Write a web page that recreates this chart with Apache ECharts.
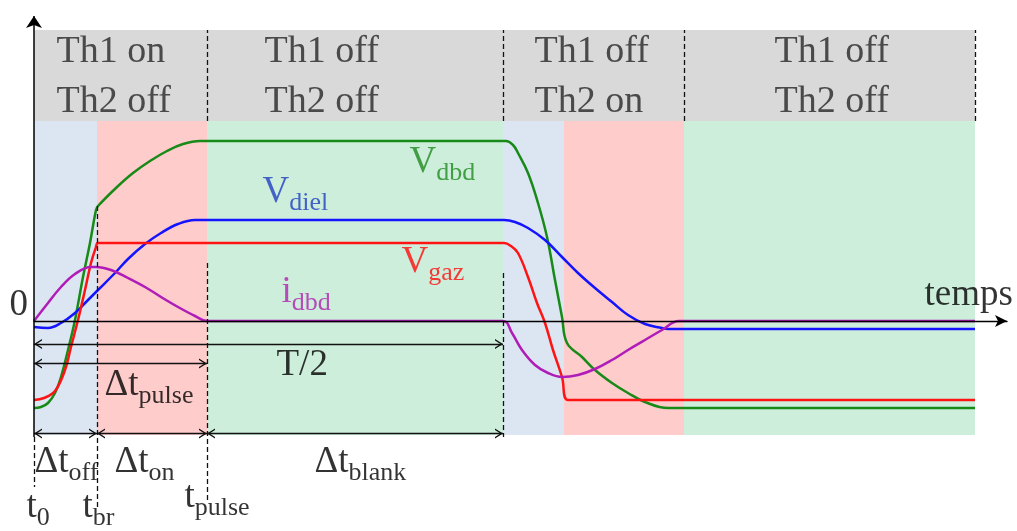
<!DOCTYPE html>
<html><head><meta charset="utf-8">
<script src="https://cdn.jsdelivr.net/npm/echarts@6/dist/echarts.min.js"></script>
<style>html,body{margin:0;padding:0;background:#fff}#c{width:1017px;height:531px}</style>
</head><body><div id="c"></div>
<script>
// ---- data (time in arbitrary units, voltages/current in arbitrary units) ----
const phaseBounds = [0, 6.3, 17.3, 46.9, 53.0, 65.0, 94.1];
const headerBounds = [0, 17.3, 46.9, 65.0, 94.1];
const headerStates = ['Th1 on\nTh2 off', 'Th1 off\nTh2 off', 'Th1 off\nTh2 on', 'Th1 off\nTh2 off'];
const tBr = 6.3, tPulse = 17.3, tHalf = 46.9;

const vDbd = [[0,-8.7],[0.7,-8.6],[1.4,-8.2],[2.1,-7.2],[2.7,-5.6],[3.4,-2.9],[4.1,0.1],[4.9,4.4],[5.6,7.8],[6.2,11.1],[6.4,11.5],
  [8.3,13.4],[9.9,14.8],[11.6,16.0],[13.3,17.0],[14.9,17.7],[16.6,18.0],[47.2,18.0],[47.9,17.6],[48.4,16.8],
  [49.4,14.8],[50.4,11.8],[51.3,8.4],[52.1,4.1],[52.8,0.4],[53.3,-2.2],[54.8,-3.6],[56.1,-4.9],[57.8,-6.2],
  [59.4,-7.2],[61.1,-8.1],[63.4,-8.7],[94.1,-8.7]];
const vGaz = [[0,-7.9],[1.0,-7.7],[2.1,-7.0],[3.1,-4.9],[3.7,-2.6],[4.4,0.1],[5.1,3.1],[5.7,5.8],[6.2,7.4],[6.4,7.8],
  [47.0,7.8],[47.7,7.5],[48.4,6.8],[49.4,4.4],[50.3,1.8],[51.1,-0.2],[51.9,-2.9],[52.8,-5.6],[53.4,-7.9],[94.1,-7.9]];
const vDiel = [[0,-0.6],[1.4,-0.7],[2.7,-0.2],[4.1,0.8],[5.4,2.1],[6.4,3.1],[8.1,4.8],[9.4,6.2],[11.1,7.7],[12.7,8.8],
  [14.4,9.7],[16.1,10.1],[47.0,10.1],[48.1,9.9],[49.4,9.3],[51.1,8.1],[52.8,6.4],[54.4,4.8],[56.1,3.3],[57.8,1.9],
  [59.4,0.6],[61.1,-0.3],[62.8,-0.7],[63.4,-0.8],[94.1,-0.8]];
const iDbd = [[0,0],[1.4,1.8],[2.7,3.4],[4.1,4.7],[5.7,5.4],[6.2,5.4],[7.7,5.1],[9.4,4.3],[11.1,3.4],[12.7,2.4],
  [14.4,1.4],[16.1,0.5],[17.3,0],[46.9,0],[47.8,-1.2],[48.8,-2.9],[50.1,-4.4],[51.4,-5.2],[52.8,-5.6],[54.4,-5.4],
  [56.1,-4.8],[57.8,-3.9],[59.4,-2.9],[61.1,-1.9],[62.8,-0.9],[64.5,0],[94.1,0]];

// ---- styles / layout ----
const SERIF = "'Liberation Serif','Times New Roman',serif";
const C_DBD = '#178a17', C_DIEL = '#1414ff', C_GAZ = '#ff1414', C_I = '#b01cb8';
const bandColors = ['#dce6f2','#ffcccc','#cdeedb','#dce6f2','#ffcccc','#cdeedb'];
const BAND_BOTTOM = -11.4, BAND_TOP = 20.0, HEAD_TOP = 29.1;

const areas = phaseBounds.slice(0, -1).map((s, i) => [
  {coord: [s, BAND_BOTTOM], itemStyle: {color: bandColors[i]}},
  {coord: [phaseBounds[i + 1], BAND_TOP]}]);
areas.push([{coord: [headerBounds[0], BAND_TOP], itemStyle: {color: '#d9d9d9'}},
            {coord: [headerBounds[headerBounds.length - 1], HEAD_TOP]}]);

const dashedSegs = [
  [0, -11.6, 0, -16.6],
  [tBr, 11.5, tBr, -18.9],
  [tPulse, 5.8, tPulse, -18.2],
  [tHalf, 4.8, tHalf, -11.6]];
headerBounds.slice(1).forEach(b => dashedSegs.push([b, BAND_TOP, b, HEAD_TOP]));

// open chevron pointing "up" (outward), tip at the symbol centre
const CHEVRON = 'path://M3,8 L8,0 L13,8 L11.4,8 L8,2.6 L4.6,8 Z M0,-8 L0.01,-8 Z M16,-8 L15.99,-8 Z';
const arrowSegs = [[0, tHalf, -2.3], [0, tPulse, -4.25], [0, tBr, -11.25], [tBr, tPulse, -11.25], [tPulse, tHalf, -11.25]];

const mlData = [];
dashedSegs.forEach(d => mlData.push([
  {coord: [d[0], d[1]], symbol: 'none', lineStyle: {type: [5, 3], width: 1.3, color: '#111'}},
  {coord: [d[2], d[3]], symbol: 'none'}]));
arrowSegs.forEach(a => mlData.push([
  {coord: [a[0], a[2]], symbol: CHEVRON, symbolSize: 16, lineStyle: {type: 'solid', width: 1.4, color: '#111'}},
  {coord: [a[1], a[2]], symbol: CHEVRON, symbolSize: 16}]));
mlData.push([
  {coord: [0, -11.6], symbol: 'none', lineStyle: {type: 'solid', width: 1.5, color: '#000'}},
  {coord: [0, 30.5], symbol: 'arrow', symbolSize: 12}]);

function ann(x, y, main, sub, color) {
  const txt = '{m|' + main + '}' + (sub ? '{s|' + sub + '}' : '');
  return {
    value: [x, y],
    label: {
      show: true, position: [0, 0], align: 'left', verticalAlign: 'middle', formatter: txt,
      rich: {
        m: {fontSize: 37, lineHeight: 49, fontFamily: SERIF, color: color},
        s: {fontSize: 26, lineHeight: 26, verticalAlign: 'bottom', fontFamily: SERIF, color: color}
      }
    }
  };
}
const annData = [
  ann(-2.4, 1.55, '0', '', '#000'),
  ann(89.1, 2.55, 'temps', '', '#000'),
  ann(37.6, 15.85, 'V', 'dbd', '#1f8a1f'),
  ann(22.9, 12.85, 'V', 'diel', '#1f3fc0'),
  ann(36.8, 5.85, 'V', 'gaz', '#ff0d0d'),
  ann(24.8, 2.85, 'i', 'dbd', '#b020b0'),
  ann(24.3, -4.45, 'T/2', '', '#000'),
  ann(7.1, -6.45, 'Δt', 'pulse', '#000'),
  ann(0.1, -14.15, 'Δt', 'off', '#000'),
  ann(8.1, -14.15, 'Δt', 'on', '#000'),
  ann(28.1, -14.15, 'Δt', 'blank', '#000'),
  ann(-0.7, -18.65, 't', '0', '#000'),
  ann(4.9, -18.65, 't', 'br', '#000'),
  ann(15.1, -17.65, 't', 'pulse', '#000')
];
const headerLeft = [2.3, 23.1, 50.1, 74.1];
const headData = headerStates.map((s, i) => ({
  value: [headerLeft[i], 24.38],
  label: {show: true, position: [0, 0], align: 'left', verticalAlign: 'middle', formatter: s,
          fontFamily: SERIF, fontSize: 38, lineHeight: 50, color: '#262626'}
}));

function curve(name, data, color) {
  return {name, type: 'line', data, showSymbol: false, symbol: 'none', smooth: 0.4, clip: false, z: 3,
          lineStyle: {color, width: 2.5}, itemStyle: {color}, silent: true};
}

const option = {
  animation: false,
  grid: {left: 34, right: 10, top: 10, bottom: 0},
  xAxis: {type: 'value', min: 0, max: 97.3, z: 5,
    axisLine: {show: true, onZero: true, symbol: ['none', 'arrow'], symbolSize: [9, 12], lineStyle: {color: '#000', width: 1.4}},
    axisTick: {show: false}, axisLabel: {show: false}, splitLine: {show: false}},
  yAxis: {type: 'value', min: -21.0, max: 31.1,
    axisLine: {show: false}, axisTick: {show: false}, axisLabel: {show: false}, splitLine: {show: false}},
  series: [
    {type: 'line', data: [], z: 1, silent: true,
     markArea: {silent: true, data: areas}},
    curve('Vdbd', vDbd, C_DBD),
    curve('Vdiel', vDiel, C_DIEL),
    curve('Vgaz', vGaz, C_GAZ),
    curve('idbd', iDbd, C_I),
    {type: 'line', data: [], z: 4, silent: true,
     markLine: {silent: true, animation: false, label: {show: false}, emphasis: {disabled: true}, data: mlData}},
    {type: 'scatter', symbolSize: 1, itemStyle: {color: 'transparent'}, clip: false, z: 6, silent: true, data: annData},
    {type: 'scatter', symbolSize: 1, itemStyle: {color: 'transparent'}, clip: false, z: 6, silent: true, data: headData}
  ]
};
const chart = echarts.init(document.getElementById('c'));
chart.setOption(option);
</script></body></html>
